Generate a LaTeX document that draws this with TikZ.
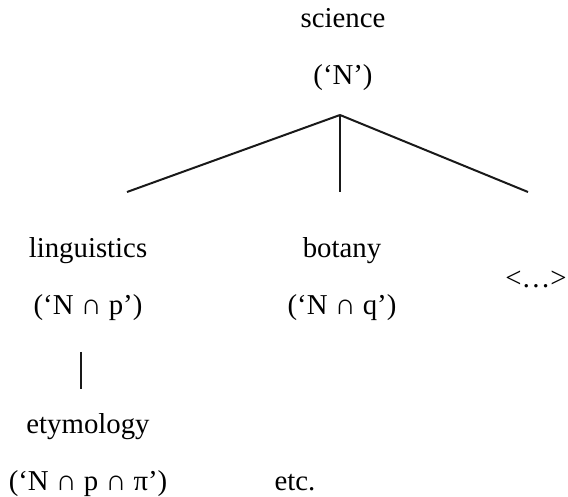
\documentclass[tikz,border=0pt]{standalone}
\usepackage{fontspec}
\setmainfont{Liberation Serif}
\usetikzlibrary{positioning}
\tikzset{
  term/.style={font=\fontsize{14.4}{17}\selectfont, inner sep=0pt, anchor=base},
  gloss/.style={term},
  branch/.style={line width=1pt, black!90},
}
\begin{document}
\begin{tikzpicture}[x=0.5pt,y=-0.5pt]
  \useasboundingbox (0,0) rectangle (568,497);
  % root
  \node[term]  (sci)  at (343,28)  {science};
  \node[gloss] (sciN) at (343,85)  {(‘N’)};
  % daughters
  \node[term]  (ling)  at (88,258)  {linguistics};
  \node[gloss] (lingN) at (88,315)  {(‘N ∩ p’)};
  \node[term]  (bot)   at (342,258) {botany};
  \node[gloss] (botN)  at (342,315) {(‘N ∩ q’)};
  \node[term]  (more)  at (536,288) {<…>};
  % granddaughter
  \node[term]  (ety)   at (88,433)  {etymology};
  \node[gloss] (etyN)  at (88,490)  {(‘N ∩ p ∩ π’)};
  \node[term]  (etc)   at (295,490) {etc.};
  % branch ends
  \coordinate (apex)  at (340,115);
  \coordinate (lingE) at (127,192);
  \coordinate (botE)  at (340,192);
  \coordinate (moreE) at (528,192);
  \coordinate (etyA)  at (81,352);
  \coordinate (etyB)  at (81,389);
  \draw[branch] (apex) -- (lingE);
  \draw[branch] (apex) -- (botE);
  \draw[branch] (apex) -- (moreE);
  \draw[branch] (etyA) -- (etyB);
\end{tikzpicture}
\end{document}
